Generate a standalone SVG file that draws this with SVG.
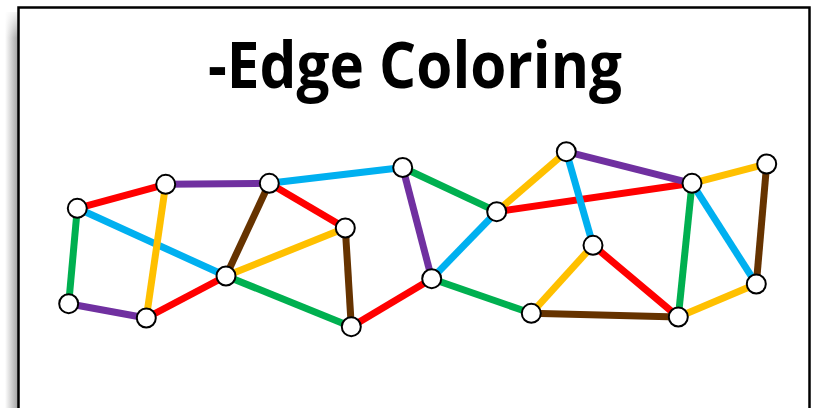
<svg xmlns="http://www.w3.org/2000/svg" width="813" height="408" viewBox="0 0 813 408">
<defs>
<linearGradient id="shadow" x1="0" y1="0" x2="1" y2="0">
<stop offset="0" stop-color="#ffffff"/>
<stop offset="1" stop-color="#9a9a9a"/>
</linearGradient>
<linearGradient id="shadowTop" x1="0" y1="0" x2="0" y2="1">
<stop offset="0" stop-color="#ffffff" stop-opacity="1"/>
<stop offset="1" stop-color="#ffffff" stop-opacity="0"/>
</linearGradient>
<style>
.e{stroke-width:7;stroke-linecap:butt;fill:none}
.r{stroke:#FF0000}.p{stroke:#7030A0}.b{stroke:#00B0F0}.g{stroke:#00B050}.y{stroke:#FFC000}.n{stroke:#663300}
.nd circle{fill:#ffffff;stroke:#000000;stroke-width:2}
.title{font-family:"Open Sans","DejaVu Sans",sans-serif;font-weight:bold;font-size:64px;fill:#000000}
</style>
</defs>
<rect x="0" y="0" width="813" height="408" fill="#ffffff"/>
<rect x="5" y="12" width="14" height="400" fill="url(#shadow)"/>
<rect x="4" y="8" width="16" height="30" fill="url(#shadowTop)"/>
<rect x="18.5" y="7.5" width="791" height="420" fill="#ffffff" stroke="#000000" stroke-width="2.5"/>
<text class="title" x="208" y="88" textLength="414" lengthAdjust="spacingAndGlyphs">-Edge Coloring</text>
<g id="connectors">
<line class="e r" x1="77.3" y1="208.3" x2="165.7" y2="184.3"/>
<line class="e p" x1="165.7" y1="184.3" x2="269.3" y2="183.3"/>
<line class="e b" x1="269.3" y1="183.3" x2="402.7" y2="167.5"/>
<line class="e g" x1="77.3" y1="208.3" x2="68.7" y2="303.7"/>
<line class="e b" x1="77.3" y1="208.3" x2="226" y2="276"/>
<line class="e y" x1="165.7" y1="184.3" x2="146.3" y2="318"/>
<line class="e p" x1="68.7" y1="303.7" x2="146.3" y2="318"/>
<line class="e r" x1="146.3" y1="318" x2="226" y2="276"/>
<line class="e n" x1="269.3" y1="183.3" x2="226" y2="276"/>
<line class="e r" x1="269.3" y1="183.3" x2="345.3" y2="228"/>
<line class="e y" x1="226" y1="276" x2="345.3" y2="228"/>
<line class="e g" x1="226" y1="276" x2="351.3" y2="326.7"/>
<line class="e n" x1="345.3" y1="228" x2="351.3" y2="326.7"/>
<line class="e r" x1="351.3" y1="326.7" x2="431.7" y2="278.7"/>
<line class="e p" x1="402.7" y1="167.5" x2="431.7" y2="278.7"/>
<line class="e g" x1="402.7" y1="167.5" x2="496.7" y2="211.7"/>
<line class="e b" x1="431.7" y1="278.7" x2="496.7" y2="211.7"/>
<line class="e g" x1="431.7" y1="278.7" x2="531.3" y2="313.3"/>
<line class="e y" x1="496.7" y1="211.7" x2="566.3" y2="151.7"/>
<line class="e r" x1="496.7" y1="211.7" x2="692" y2="183.3"/>
<line class="e p" x1="566.3" y1="151.7" x2="692" y2="183.3"/>
<line class="e b" x1="566.3" y1="151.7" x2="593" y2="245.3"/>
<line class="e y" x1="593" y1="245.3" x2="531.3" y2="313.3"/>
<line class="e r" x1="593" y1="245.3" x2="678.3" y2="317"/>
<line class="e n" x1="531.3" y1="313.3" x2="678.3" y2="317"/>
<line class="e g" x1="692" y1="183.3" x2="678.3" y2="317"/>
<line class="e y" x1="692" y1="183.3" x2="766.7" y2="164"/>
<line class="e b" x1="692" y1="183.3" x2="756.3" y2="284"/>
<line class="e n" x1="766.7" y1="164" x2="756.3" y2="284"/>
<line class="e y" x1="678.3" y1="317" x2="756.3" y2="284"/>
</g>
<g class="nd">
<g id="nA"><circle cx="77.3" cy="208.3" r="9.5"/></g>
<g id="nB"><circle cx="165.7" cy="184.3" r="9.5"/></g>
<g id="nC"><circle cx="269.3" cy="183.3" r="9.5"/></g>
<g id="nD"><circle cx="402.7" cy="167.5" r="9.5"/></g>
<g id="nE"><circle cx="345.3" cy="228" r="9.5"/></g>
<g id="nF"><circle cx="226" cy="276" r="9.5"/></g>
<g id="nG"><circle cx="68.7" cy="303.7" r="9.5"/></g>
<g id="nH"><circle cx="146.3" cy="318" r="9.5"/></g>
<g id="nI"><circle cx="351.3" cy="326.7" r="9.5"/></g>
<g id="nJ"><circle cx="431.7" cy="278.7" r="9.5"/></g>
<g id="nK"><circle cx="496.7" cy="211.7" r="9.5"/></g>
<g id="nL"><circle cx="566.3" cy="151.7" r="9.5"/></g>
<g id="nM"><circle cx="593" cy="245.3" r="9.5"/></g>
<g id="nN"><circle cx="692" cy="183.3" r="9.5"/></g>
<g id="nO"><circle cx="766.7" cy="164" r="9.5"/></g>
<g id="nP"><circle cx="756.3" cy="284" r="9.5"/></g>
<g id="nQ"><circle cx="531.3" cy="313.3" r="9.5"/></g>
<g id="nR"><circle cx="678.3" cy="317" r="9.5"/></g>
</g>
</svg>
